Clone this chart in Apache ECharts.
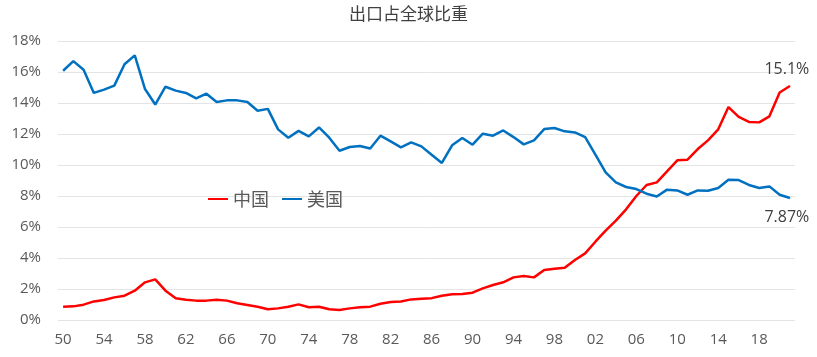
<!DOCTYPE html>
<html><head><meta charset="utf-8">
<script src="https://cdn.jsdelivr.net/npm/echarts@6/dist/echarts.min.js"></script>
<style>html,body{margin:0;padding:0;background:#fff}#c{width:817px;height:357px}</style>
</head><body><div id="c"></div>
<script>
const years = [];
for (let y = 1950; y <= 2021; y++) years.push(String(y));
const china = [0.86,0.88,0.99,1.2,1.29,1.46,1.57,1.89,2.43,2.62,
  1.89,1.4,1.31,1.25,1.25,1.31,1.25,1.08,0.97,0.86,
  0.69,0.75,0.86,1.01,0.82,0.86,0.69,0.65,0.75,0.82,
  0.86,1.05,1.16,1.2,1.33,1.37,1.41,1.57,1.66,1.68,
  1.76,2.04,2.26,2.43,2.75,2.84,2.75,3.23,3.31,3.37,
  3.87,4.3,5.05,5.76,6.41,7.14,8.0,8.71,8.88,9.59,
  10.3,10.34,11.03,11.59,12.3,13.74,13.1,12.78,12.75,13.14,
  14.68,15.1];
const usa = [16.08,16.7,16.15,14.65,14.86,15.12,16.5,17.07,14.9,13.9,
  15.05,14.8,14.65,14.3,14.6,14.06,14.17,14.17,14.06,13.5,
  13.62,12.3,11.76,12.2,11.85,12.42,11.76,10.92,11.16,11.22,
  11.07,11.89,11.52,11.14,11.46,11.2,10.66,10.13,11.27,11.74,
  11.31,12.02,11.89,12.23,11.8,11.33,11.59,12.32,12.39,12.17,
  12.1,11.8,10.67,9.52,8.88,8.58,8.45,8.15,7.97,8.41,
  8.36,8.08,8.36,8.34,8.52,9.05,9.03,8.71,8.52,8.62,
  8.08,7.87];
const chinaLastLabel = '15.1%';
const usaLastLabel = '7.87%';

function withLast(arr, text, pos, dist) {
  return arr.map((v, i) => i === arr.length - 1
    ? {value: v, symbol: 'circle', symbolSize: 1,
       label: {show: true, formatter: text, position: pos, distance: dist, offset: [-3, 0], color: '#404040', fontSize: 16, fontFamily: 'Open Sans'}}
    : {value: v, symbol: 'none'});
}

const chart = echarts.init(document.getElementById('c'));
chart.setOption({
  animation: false,
  textStyle: {fontFamily: '"Open Sans", "Noto Sans CJK SC", sans-serif'},
  title: {text: '出口占全球比重', left: 'center', top: 0,
    textStyle: {fontSize: 17, fontWeight: 'normal', color: '#404040', fontFamily: '"Noto Sans CJK SC", sans-serif'}},
  legend: {
    left: 203, top: 185, itemWidth: 20, itemHeight: 2, itemGap: 13, icon: 'rect',
    textStyle: {fontSize: 18, color: '#595959', fontFamily: '"Noto Sans CJK SC", sans-serif'},
    data: ['中国', '美国']
  },
  grid: {left: 58, right: 22, top: 41, bottom: 37, containLabel: false},
  xAxis: {
    type: 'category', data: years, boundaryGap: true,
    axisLine: {show: false}, axisTick: {show: false},
    axisLabel: {interval: 3, color: '#595959', fontSize: 15, margin: 12,
      formatter: v => v.slice(2)}
  },
  yAxis: {
    type: 'value', min: 0, max: 18, interval: 2,
    axisLine: {show: false}, axisTick: {show: false},
    axisLabel: {formatter: '{value}%', color: '#595959', fontSize: 15, margin: 17},
    splitLine: {lineStyle: {color: '#e4e4e4', width: 1}}
  },
  series: [
    {name: '中国', type: 'line', data: withLast(china, chinaLastLabel, 'top', 8), showSymbol: true,
      lineStyle: {color: '#FF0000', width: 2.5}, itemStyle: {color: '#FF0000'}},
    {name: '美国', type: 'line', data: withLast(usa, usaLastLabel, 'bottom', 11), showSymbol: true,
      lineStyle: {color: '#0070C0', width: 2.5}, itemStyle: {color: '#0070C0'}}
  ]
});
</script></body></html>
